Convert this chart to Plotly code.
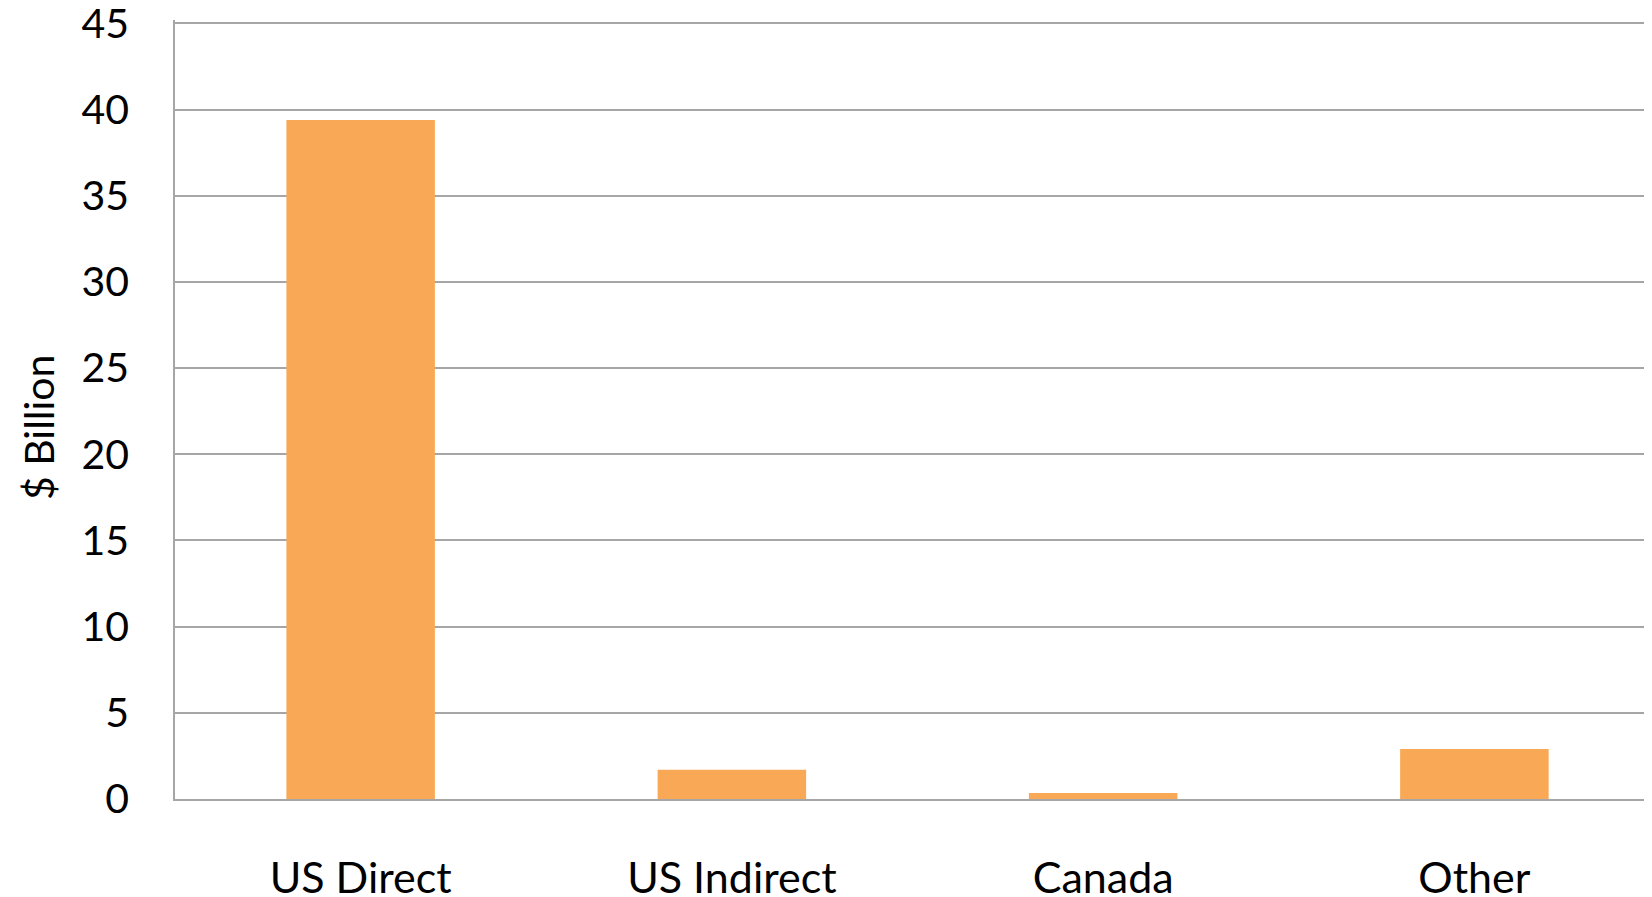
import plotly.graph_objects as go

categories = ["US Direct", "US Indirect", "Canada", "Other"]
values = [39.4, 1.7, 0.35, 2.9]
y_ticks = [0, 5, 10, 15, 20, 25, 30, 35, 40, 45]

FONT = "Lato"
GRID = "#A6A6A6"
FS = 41

fig = go.Figure(go.Bar(
    x=categories, y=values,
    marker=dict(color="#F9A856", line=dict(width=0)),
    width=0.4,
))

fig.update_layout(
    width=1652, height=897,
    margin=dict(l=167, r=0, t=12, b=106),
    paper_bgcolor="white", plot_bgcolor="white",
    showlegend=False,
    font=dict(family=FONT, size=FS, color="black"),
)
fig.update_xaxes(
    showline=True, linecolor=GRID, linewidth=1.5,
    showgrid=False, ticks="", ticklabelstandoff=41,
    automargin=False, ticklabeloverflow="allow",
    tickfont=dict(family=FONT, size=43, color="black"),
)
fig.update_yaxes(
    range=[0, 45.2], tickvals=y_ticks,
    showgrid=True, gridcolor=GRID, gridwidth=1.5,
    showline=True, linecolor=GRID, linewidth=1.5,
    zeroline=False, ticks="", ticklabelstandoff=36,
    automargin=False, ticklabeloverflow="allow",
    tickfont=dict(family=FONT, size=FS, color="black"),
)
fig.add_annotation(
    text="$ Billion", textangle=-90, showarrow=False,
    xref="paper", yref="paper", x=0, y=0.4775,
    xanchor="center", yanchor="middle", xshift=-137,
    font=dict(family=FONT, size=41, color="black"),
)

fig.write_html("out.html")
